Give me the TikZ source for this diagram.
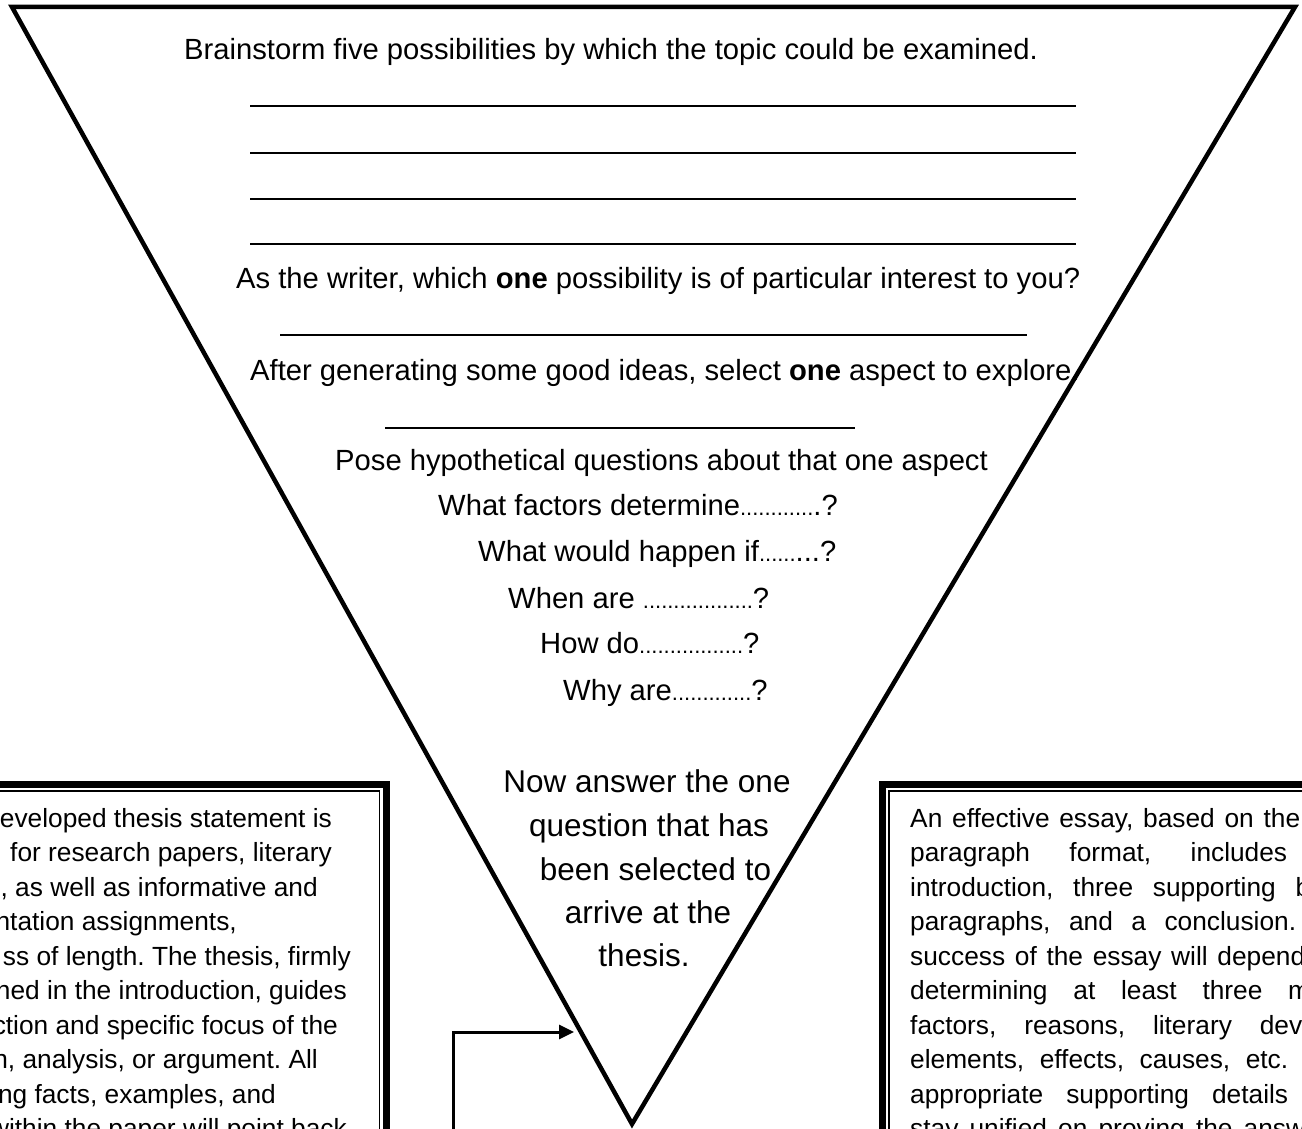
\documentclass[tikz,border=0pt]{standalone}
\usepackage{fontspec}
\setmainfont{Liberation Sans}
\usetikzlibrary{arrows.meta}

\tikzset{
  funnel/.style={line width=4.5pt, line join=miter},
  blank/.style={line width=1.6pt},
  thickrule/.style={line width=7pt, line join=miter},
  thinrule/.style={line width=1.5pt, line join=miter},
  pointer/.style={line width=3pt, -{Triangle[length=15pt,width=14pt]}},
  prompt/.style={anchor=base west, inner sep=0pt, font=\fontsize{29.2pt}{35pt}\selectfont},
  answer/.style={anchor=base, inner sep=0pt, font=\fontsize{31.5pt}{38pt}\selectfont},
  boxline/.style={inner sep=0pt, font=\fontsize{26.3pt}{32pt}\selectfont},
}
\newcommand\qdots[1]{{\fontsize{22pt}{22pt}\selectfont\foreach\i in {1,...,#1}{.}}}

\begin{document}
\frenchspacing
\begin{tikzpicture}[x=1pt,y=-1pt]
            \path[use as bounding box] (0,0) rectangle (1302,1129);
            \clip (0,0) rectangle (1302,1129);
            \coordinate (tl) at (12,7);
            \coordinate (tr) at (1295,7);
            \coordinate (tip) at (632,1124);
            \draw[funnel] (tl) -- (tr) -- (tip) -- cycle;

            \node[prompt] (brain) at (184,60) {Brainstorm five possibilities by which the topic could be examined.};
            \foreach \y in {106,153,199,244}
                \draw[blank] (250,\y) -- (1076,\y);
            \node[prompt] (writer) at (236,288) {As the writer, which \textbf{one} possibility is of particular interest to you?};
            \draw[blank] (280,335) -- (1027,335);
            \node[prompt] (select) at (250,380) {After generating some good ideas, select \textbf{one} aspect to explore.};
            \draw[blank] (385,428) -- (855,428);
            \node[prompt] (pose) at (335,470) {Pose hypothetical questions about that one aspect};
            \node[prompt] (q1) at (438,515) {What factors determine\qdots{12}.?};
            \node[prompt] (q2) at (478,561) {What would happen if\qdots{6}...?};
            \node[prompt] (q3) at (508,608) {When are \qdots{18}?};
            \node[prompt] (q4) at (540,653) {How do\qdots{17}?};
            \node[prompt] (q5) at (563,700) {Why are\qdots{13}?};

            \node[answer] (ans1) at (647,792.5) {Now answer the one};
            \node[answer] (ans2) at (649,836) {question that has};
            \node[answer] (ans3) at (655.5,880) {been selected to};
            \node[answer] (ans4) at (648,923.5) {arrive at the};
            \node[answer] (ans5) at (644,966) {thesis.};

            \coordinate (arrowfoot) at (453,1140);
            \coordinate (arrowhead) at (574,1032);
            \draw[pointer] (arrowfoot) |- (arrowhead);

            \draw[thickrule] (-10,784.5) -- (386,784.5) -- (386,1140);
            \draw[thinrule] (-10,791.2) -- (379.7,791.2) -- (379.7,1140);
            \foreach \r/\txt [count=\k from 0] in {332/{eveloped thesis statement is}, 332/{for research papers, literary},
                318/{, as well as informative and}, 237/{ntation assignments,}, 351/{ss of length. The thesis, firmly},
                347/{ned in the introduction, guides}, 338/{ction and specific focus of the}, 318/{n, analysis, or argument. All},
                276/{ng facts, examples, and}, 347/{within the paper will point back}}
                \node[boxline, anchor=base east] (left\k) at (\r,{827+34.5*\k}) {\txt};

            \draw[thickrule] (882,1140) -- (882,784.5) -- (1310,784.5);
            \draw[thinrule] (889,1140) -- (889,791.2) -- (1310,791.2);
            \foreach \w/\txt [count=\k from 0] in {390/{An effective essay, based on the}, 377/{paragraph format, includes},
                400/{introduction, three supporting b}, 386/{paragraphs, and a conclusion.}, 395/{success of the essay will depend},
                400/{determining at least three m}, 392/{factors, reasons, literary dev}, 378/{elements, effects, causes, etc.},
                378/{appropriate supporting details}, 395/{stay unified on proving the answ}}
                \node[boxline, anchor=base west] (right\k) at (910,{827+34.5*\k}) {\makebox[\w pt][s]{\txt}};
        \end{tikzpicture}
\end{document}
